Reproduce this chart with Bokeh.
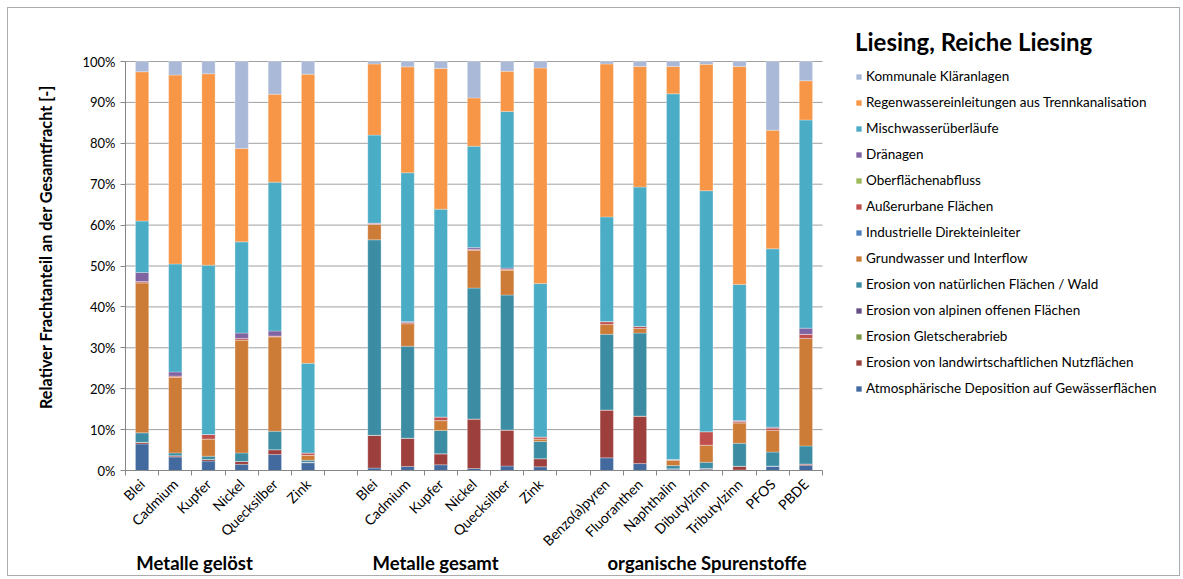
import math
from bokeh.plotting import figure
from bokeh.models import (ColumnDataSource, FixedTicker, LinearAxis, Legend, LegendItem,
                          PrintfTickFormatter, Range1d)
from bokeh.embed import file_html
from bokeh.resources import INLINE

# ---------------- data ----------------
categories = ["Blei", "Cadmium", "Kupfer", "Nickel", "Quecksilber", "Zink",
              "Blei", "Cadmium", "Kupfer", "Nickel", "Quecksilber", "Zink",
              "Benzo(a)pyren", "Fluoranthen", "Naphthalin", "Dibutylzinn",
              "Tributylzinn", "PFOS", "PBDE"]
group_of = [0] * 6 + [1] * 6 + [2] * 7
group_names = ["Metalle gelöst", "Metalle gesamt", "organische Spurenstoffe"]

title_text = "Liesing, Reiche Liesing"
y_label = "Relativer Frachtanteil an der Gesamtfracht [-]"
y_ticks = [0, 10, 20, 30, 40, 50, 60, 70, 80, 90, 100]

# series listed bottom -> top of the stack (values in %)
atmos     = [6.5, 3.3, 2.3, 1.5, 3.9, 1.9,  0.6, 1.0, 1.4, 0.5, 1.1, 0.9,  3.1, 1.7, 0.4, 0.3, 0.15, 1.1, 1.3]
landw     = [0.4, 0.3, 0.4, 0.7, 1.2, 0.1,  8.0, 6.9, 2.7, 12.1, 8.8, 2.0, 11.7, 11.6, 0.0, 0.2, 0.9, 0.0, 0.3]
gletscher = [0.0] * 19
alpin     = [0.0] * 19
wald      = [2.3, 0.7, 0.8, 2.1, 4.5, 0.5,  47.8, 22.5, 5.7, 32.0, 33.0, 4.2, 18.5, 20.3, 0.8, 1.5, 5.6, 3.4, 4.4]
grund     = [36.7, 18.5, 4.2, 27.6, 23.1, 1.2, 3.8, 5.5, 2.4, 9.2, 6.1, 0.6, 2.4, 1.1, 1.3, 4.2, 5.0, 5.3, 26.3]
industrie = [0.0] * 19
ausser    = [0.3, 0.3, 1.1, 0.4, 0.2, 0.6,  0.2, 0.3, 0.9, 0.3, 0.25, 0.5, 0.7, 0.5, 0.2, 3.3, 0.4, 0.6, 1.0]
oberfl    = [0.0] * 19
draen     = [2.2, 1.0, 0.0, 1.3, 1.2, 0.0,  0.1, 0.2, 0.0, 0.4, 0.25, 0.0, 0.0, 0.0, 0.0, 0.0, 0.15, 0.2, 1.5]
misch     = [12.6, 26.4, 41.4, 22.3, 36.4, 21.9, 21.5, 36.4, 50.8, 24.8, 38.3, 37.5, 25.6, 34.1, 89.4, 58.9, 33.3, 43.6, 50.9]
regen     = [36.5, 46.2, 46.8, 22.8, 21.5, 70.7, 17.4, 25.9, 34.4, 11.8, 9.8, 52.7, 37.4, 29.5, 6.7, 30.9, 53.3, 29.0, 9.6]
kommunal  = [2.5, 3.3, 3.0, 21.3, 8.0, 3.1,  0.6, 1.3, 1.7, 8.9, 2.4, 1.6,  0.6, 1.2, 1.2, 0.7, 1.2, 16.8, 4.7]

series = [
    ("Atmosphärische Deposition auf Gewässerflächen", atmos, "#426A9F"),
    ("Erosion von landwirtschaftlichen Nutzflächen", landw, "#9D3F3C"),
    ("Erosion Gletscherabrieb", gletscher, "#7E9A48"),
    ("Erosion von alpinen offenen Flächen", alpin, "#664F84"),
    ("Erosion von natürlichen Flächen / Wald", wald, "#3C8DA3"),
    ("Grundwasser und Interflow", grund, "#CD7C38"),
    ("Industrielle Direkteinleiter", industrie, "#4F81BD"),
    ("Außerurbane Flächen", ausser, "#C0504D"),
    ("Oberflächenabfluss", oberfl, "#9BBB59"),
    ("Dränagen", draen, "#8064A2"),
    ("Mischwasserüberläufe", misch, "#4BACC6"),
    ("Regenwassereinleitungen aus Trennkanalisation", regen, "#F79646"),
    ("Kommunale Kläranlagen", kommunal, "#AAB9D8"),
]

# ---------------- layout ----------------
FONT = "Lato"
W, H = 1173, 569
LEFT, TOP, BOTTOM = 117, 15, 107  # borders around the drawing frame
CHART_W, CHART_H = 697, 409       # pixel size of the bar area (0..100 %)
xs = [i + g for i, g in enumerate(group_of)]          # one empty slot between groups
n_slots = xs[-1] + 1
group_label_x = [1.58, 8.84, 17.02]                   # where the group captions sit

slot_px = CHART_W / n_slots
frame_w = W - LEFT
frame_h = H - TOP - BOTTOM
x_end = -0.5 + frame_w / slot_px
y_end = 100.0 * frame_h / CHART_H

data = {"x": xs}
keys = []
for k, (name, vals, col) in enumerate(series):
    key = "s%d" % k
    keys.append(key)
    data[key] = vals
src = ColumnDataSource(data)

p = figure(width=W, height=H, output_backend="svg", toolbar_location=None,
           x_range=Range1d(-0.5, x_end), y_range=Range1d(0, y_end),
           min_border_left=LEFT, min_border_right=0, min_border_top=TOP,
           min_border_bottom=BOTTOM, x_axis_location=None)
p.outline_line_color = None
p.background_fill_color = "white"
p.border_fill_color = "white"
p.styles = {"border": "1px solid #ABABAB", "margin": "7px 0px 0px 7px"}

# horizontal gridlines, limited to the bar area
p.xgrid.visible = False
p.ygrid.visible = False
p.segment(x0=[-0.5] * len(y_ticks), x1=[n_slots - 0.5] * len(y_ticks),
          y0=y_ticks, y1=y_ticks, line_color="#A0A0A0", line_width=1, level="underlay")

renderers = p.vbar_stack(keys, x="x", width=0.4, source=src,
                         color=[s[2] for s in series],
                         line_color="white", line_width=0.6, line_alpha=0.45)

# y axis
ya = p.yaxis[0]
ya.bounds = (0, 100)
ya.ticker = FixedTicker(ticks=y_ticks)
ya.formatter = PrintfTickFormatter(format="%d%%")
ya.axis_line_color = "#868686"
ya.major_tick_line_color = "#868686"
ya.major_tick_out = 5
ya.major_tick_in = 0
ya.minor_tick_line_color = None
ya.major_label_text_font = FONT
ya.major_label_text_font_size = "13px"
ya.major_label_text_color = "black"
ya.major_label_standoff = 5
ya.axis_label = y_label
ya.axis_label_text_font = FONT
ya.axis_label_text_font_style = "bold"
ya.axis_label_text_font_size = "16.2px"
ya.axis_label_text_color = "black"
ya.axis_label_standoff = 24

# x axis: names at slot centres, tick marks (minor) at slot boundaries
bounds = [b - 0.5 for b in range(n_slots + 1)]
xa = LinearAxis(ticker=FixedTicker(ticks=xs, minor_ticks=bounds), bounds=(-0.5, n_slots - 0.5))
xa.major_label_overrides = {x: c for x, c in zip(xs, categories)}
xa.axis_line_color = "#868686"
xa.major_tick_line_color = None
xa.major_tick_out = 0
xa.major_tick_in = 0
xa.minor_tick_line_color = "#868686"
xa.minor_tick_out = 5
xa.minor_tick_in = 0
xa.major_label_orientation = math.pi / 4
xa.major_label_text_font = FONT
xa.major_label_text_font_size = "14px"
xa.major_label_text_color = "black"
xa.major_label_standoff = 6
p.add_layout(xa, "below")

# group captions
xg = LinearAxis(ticker=FixedTicker(ticks=group_label_x))
xg.major_label_overrides = {x: g for x, g in zip(group_label_x, group_names)}
xg.axis_line_color = None
xg.major_tick_line_color = None
xg.minor_tick_line_color = None
xg.major_tick_out = 0
xg.major_tick_in = 0
xg.major_label_text_font = FONT
xg.major_label_text_font_style = "bold"
xg.major_label_text_font_size = "18.5px"
xg.major_label_text_color = "black"
xg.major_label_standoff = -7
p.add_layout(xg, "below")

# legend with header, right of the bars
items = [LegendItem(label=name, renderers=[r]) for (name, _, _), r in zip(series, renderers)]
items = items[::-1]
leg = Legend(items=items, location=(730, 74), orientation="vertical",
             title=title_text, title_text_font=FONT, title_text_font_style="bold",
             title_text_font_size="24px", title_text_color="black", title_standoff=12,
             glyph_width=7, glyph_height=7, label_height=16, spacing=10,
             label_standoff=4, padding=0, margin=0,
             label_text_font=FONT, label_text_font_size="13.5px", label_text_color="black",
             border_line_color=None, background_fill_alpha=0)
p.add_layout(leg, "center")

open("out.html", "w").write(file_html(p, INLINE))
